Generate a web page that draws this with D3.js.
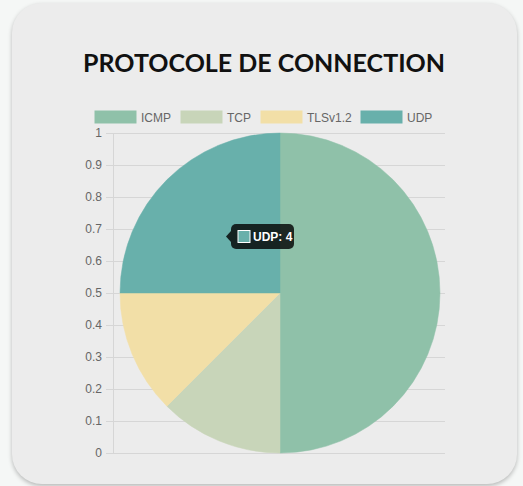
<!DOCTYPE html>
<html><head><meta charset="utf-8">
<script src="https://cdn.jsdelivr.net/npm/d3@7"></script>
<style>
html,body{margin:0;padding:0;background:#f5f7f6;width:523px;height:486px;overflow:hidden;}
#card{position:absolute;left:12px;top:3px;width:505px;height:481px;background:#ececec;border-radius:30px;box-shadow:0 2px 4px rgba(0,0,0,0.25);}
svg{position:absolute;left:0;top:0;}
</style></head>
<body>
<div id="card"></div>
<svg id="chart" width="523" height="486"></svg>
<script>
const categories = ["ICMP", "TCP", "TLSv1.2", "UDP"];
const values = [8, 2, 2, 4];
const colors = ["#8fc1a9", "#c8d5b9", "#f2dfa7", "#68b0ab"];
const yTicks = [0, 0.1, 0.2, 0.3, 0.4, 0.5, 0.6, 0.7, 0.8, 0.9, 1];
const titleText = "PROTOCOLE DE CONNECTION";
const tooltipIndex = 3;

const svg = d3.select("#chart");

svg.append("text").attr("x", 264).attr("y", 72).attr("text-anchor", "middle")
  .attr("font-family", "Lato, 'DejaVu Sans', sans-serif").attr("font-weight", 700)
  .attr("font-size", 25).attr("fill", "#111")
  .attr("textLength", 362).attr("lengthAdjust", "spacingAndGlyphs")
  .text(titleText);

// legend
const legendX = [95, 181, 261, 361];
const lg = svg.append("g");
categories.forEach((c, i) => {
  lg.append("rect").attr("x", legendX[i]).attr("y", 111).attr("width", 41).attr("height", 12)
    .attr("fill", colors[i]).attr("stroke", colors[i]);
  lg.append("text").attr("x", legendX[i] + 46).attr("y", 121.5)
    .attr("font-family", "'Liberation Sans', Arial, sans-serif").attr("font-size", 12)
    .attr("fill", "#666").text(c);
});

// y axis
const y = d3.scaleLinear().domain([0, 1]).range([453, 133]);
const xLeft = 113, xRight = 445;
const axis = svg.append("g");
yTicks.forEach(t => {
  axis.append("line").attr("x1", 106).attr("x2", xRight).attr("y1", Math.round(y(t)) + 0.5).attr("y2", Math.round(y(t)) + 0.5)
    .attr("stroke", "#d6d6d6").attr("stroke-width", 1);
  axis.append("text").attr("x", 102).attr("y", y(t) + 4).attr("text-anchor", "end")
    .attr("font-family", "'Liberation Sans', Arial, sans-serif").attr("font-size", 12)
    .attr("fill", "#666").text(t);
});
axis.append("line").attr("x1", xLeft + 0.5).attr("x2", xLeft + 0.5).attr("y1", y(1)).attr("y2", y(0))
  .attr("stroke", "#d6d6d6");

// pie
const cx = 280, cy = 293, r = 160;
const pie = d3.pie().sort(null).value(d => d)(values);
const arc = d3.arc().innerRadius(0).outerRadius(r);
const pg = svg.append("g").attr("transform", `translate(${cx},${cy})`);
pg.selectAll("path").data(pie).join("path").attr("d", arc)
  .attr("fill", (d, i) => colors[i]).attr("stroke", (d, i) => colors[i]).attr("stroke-width", 0.5);

// tooltip
const tip = svg.append("g").attr("transform", "translate(231,224)");
tip.append("rect").attr("x", 0).attr("y", 0).attr("width", 63).attr("height", 25).attr("rx", 5)
  .attr("fill", "rgba(0,0,0,0.8)");
tip.append("path").attr("d", "M0,7 L-5,12.5 L0,18 Z").attr("fill", "rgba(0,0,0,0.8)");
tip.append("rect").attr("x", 7).attr("y", 6.5).attr("width", 12).attr("height", 12)
  .attr("fill", colors[tooltipIndex]).attr("stroke", "#fff").attr("stroke-width", 1);
tip.append("text").attr("x", 22).attr("y", 17).attr("font-family", "'Liberation Sans', Arial, sans-serif")
  .attr("font-size", 12).attr("font-weight", 700).attr("fill", "#fff")
  .text(categories[tooltipIndex] + ": " + values[tooltipIndex]);
</script>
</body></html>
